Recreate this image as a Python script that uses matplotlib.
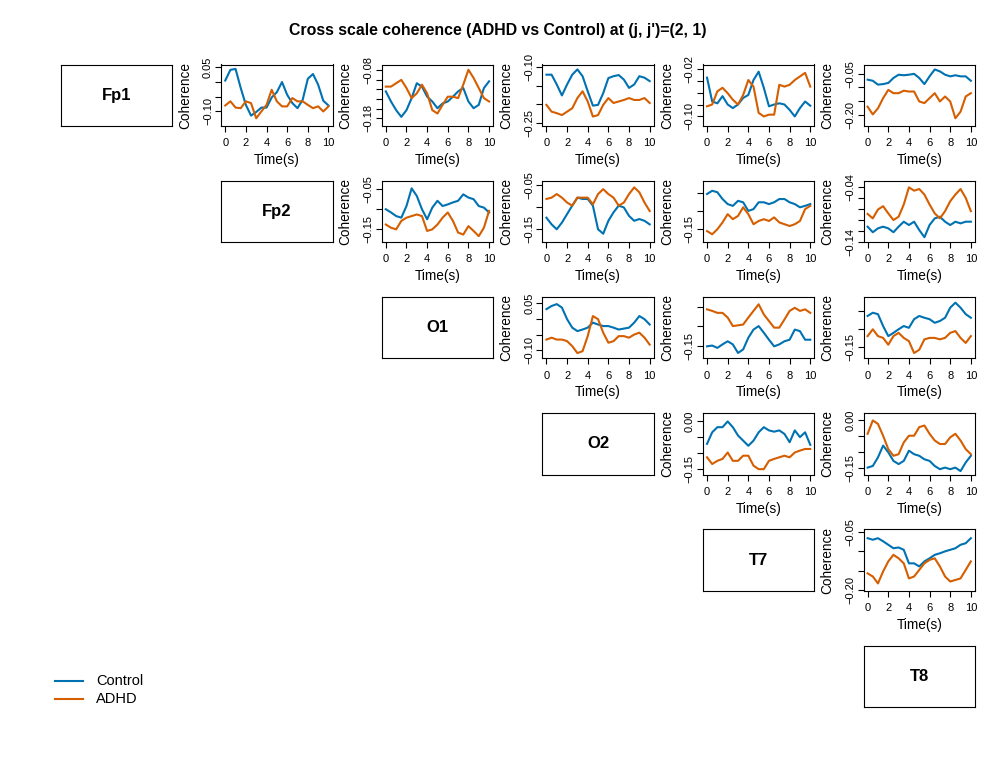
import numpy as np
import matplotlib
matplotlib.use("Agg")
import matplotlib.pyplot as plt
from matplotlib.lines import Line2D

plt.rcParams['font.family'] = ['Liberation Sans', 'DejaVu Sans']

# channels on the diagonal
channels = ["Fp1", "Fp2", "O1", "O2", "T7", "T8"]
time_s = np.arange(0, 10.01, 0.5)

# coherence values, one pair of series per panel
ctrl_fp1_fp2 = [0.004, 0.040, 0.043, -0.021, -0.078, -0.114, -0.102, -0.087, -0.087, -0.053, -0.035,
                -0.001, -0.044, -0.072, -0.089, -0.061, 0.010, 0.026, -0.010, -0.064, -0.080]
adhd_fp1_fp2 = [-0.080, -0.066, -0.087, -0.089, -0.066, -0.072, -0.123, -0.100, -0.078, -0.027, -0.066,
                -0.083, -0.083, -0.055, -0.066, -0.066, -0.078, -0.089, -0.083, -0.100, -0.083]

ctrl_fp1_o1 = [-0.124, -0.145, -0.163, -0.177, -0.163, -0.138, -0.107, -0.114, -0.135, -0.145, -0.159,
               -0.149, -0.145, -0.135, -0.124, -0.117, -0.145, -0.159, -0.152, -0.117, -0.103]
adhd_fp1_o1 = [-0.114, -0.114, -0.107, -0.100, -0.117, -0.138, -0.128, -0.110, -0.128, -0.163, -0.170,
               -0.152, -0.135, -0.135, -0.138, -0.110, -0.079, -0.096, -0.117, -0.138, -0.145]

ctrl_fp1_o2 = [-0.121, -0.121, -0.147, -0.176, -0.147, -0.121, -0.107, -0.125, -0.165, -0.203, -0.201,
               -0.170, -0.130, -0.125, -0.122, -0.134, -0.156, -0.147, -0.125, -0.129, -0.138]
adhd_fp1_o2 = [-0.201, -0.219, -0.223, -0.228, -0.219, -0.210, -0.183, -0.165, -0.192, -0.232, -0.228,
               -0.201, -0.183, -0.196, -0.192, -0.188, -0.183, -0.188, -0.188, -0.183, -0.196]

ctrl_fp1_t7 = [-0.035, -0.075, -0.078, -0.066, -0.080, -0.086, -0.080, -0.069, -0.064, -0.039, -0.025,
               -0.052, -0.083, -0.080, -0.078, -0.080, -0.089, -0.100, -0.086, -0.075, -0.082]
adhd_fp1_t7 = [-0.083, -0.080, -0.058, -0.052, -0.061, -0.072, -0.080, -0.064, -0.039, -0.050, -0.094,
               -0.100, -0.097, -0.097, -0.047, -0.050, -0.047, -0.039, -0.033, -0.027, -0.050]

ctrl_fp1_t8 = [-0.072, -0.076, -0.090, -0.088, -0.084, -0.066, -0.054, -0.056, -0.054, -0.051, -0.066,
               -0.088, -0.060, -0.035, -0.042, -0.054, -0.060, -0.056, -0.060, -0.060, -0.076]
adhd_fp1_t8 = [-0.170, -0.198, -0.176, -0.139, -0.109, -0.121, -0.121, -0.112, -0.115, -0.115, -0.151,
               -0.157, -0.139, -0.121, -0.151, -0.133, -0.151, -0.212, -0.188, -0.133, -0.121]

ctrl_fp2_o1 = [-0.100, -0.108, -0.117, -0.121, -0.092, -0.048, -0.067, -0.100, -0.125, -0.096, -0.079,
               -0.092, -0.088, -0.083, -0.079, -0.063, -0.071, -0.075, -0.092, -0.096, -0.108]
adhd_fp2_o1 = [-0.138, -0.146, -0.150, -0.129, -0.121, -0.117, -0.113, -0.117, -0.154, -0.150, -0.138,
               -0.121, -0.108, -0.129, -0.158, -0.163, -0.142, -0.154, -0.167, -0.146, -0.104]

ctrl_fp2_o2 = [-0.124, -0.139, -0.150, -0.135, -0.116, -0.097, -0.079, -0.082, -0.082, -0.097, -0.150,
               -0.160, -0.131, -0.112, -0.097, -0.101, -0.120, -0.131, -0.127, -0.131, -0.139]
adhd_fp2_o2 = [-0.082, -0.079, -0.071, -0.079, -0.090, -0.097, -0.079, -0.079, -0.079, -0.094, -0.071,
               -0.060, -0.071, -0.079, -0.097, -0.090, -0.071, -0.056, -0.067, -0.090, -0.109]

ctrl_fp2_t7 = [-0.052, -0.043, -0.047, -0.066, -0.080, -0.085, -0.071, -0.075, -0.099, -0.094, -0.075,
               -0.075, -0.080, -0.075, -0.066, -0.066, -0.075, -0.080, -0.089, -0.085, -0.080]
adhd_fp2_t7 = [-0.155, -0.164, -0.150, -0.131, -0.108, -0.122, -0.113, -0.089, -0.108, -0.136, -0.127,
               -0.122, -0.127, -0.117, -0.131, -0.136, -0.141, -0.136, -0.127, -0.094, -0.085]

ctrl_fp2_t8 = [-0.112, -0.122, -0.115, -0.112, -0.115, -0.122, -0.112, -0.103, -0.109, -0.103, -0.118,
               -0.131, -0.109, -0.097, -0.094, -0.103, -0.109, -0.103, -0.106, -0.103, -0.103]
adhd_fp2_t8 = [-0.089, -0.097, -0.081, -0.075, -0.088, -0.100, -0.094, -0.072, -0.041, -0.047, -0.044,
               -0.054, -0.072, -0.088, -0.097, -0.084, -0.066, -0.054, -0.044, -0.060, -0.084]

ctrl_o1_o2 = [0.031, 0.041, 0.047, 0.036, -0.001, -0.028, -0.039, -0.034, -0.028, -0.012, -0.018,
              -0.023, -0.023, -0.028, -0.034, -0.031, -0.028, -0.012, 0.009, -0.001, -0.018]
adhd_o1_o2 = [-0.066, -0.060, -0.066, -0.066, -0.071, -0.087, -0.109, -0.103, -0.055, 0.009, -0.001,
              -0.044, -0.076, -0.071, -0.055, -0.055, -0.060, -0.050, -0.044, -0.060, -0.082]

ctrl_o1_t7 = [-0.152, -0.150, -0.156, -0.147, -0.139, -0.147, -0.169, -0.160, -0.130, -0.109, -0.100,
              -0.117, -0.135, -0.152, -0.147, -0.139, -0.135, -0.109, -0.113, -0.135, -0.135]
adhd_o1_t7 = [-0.057, -0.061, -0.066, -0.066, -0.078, -0.100, -0.098, -0.096, -0.078, -0.061, -0.044,
              -0.070, -0.087, -0.104, -0.104, -0.083, -0.061, -0.053, -0.061, -0.057, -0.066]

ctrl_o1_t8 = [-0.064, -0.055, -0.059, -0.092, -0.120, -0.111, -0.101, -0.092, -0.097, -0.073, -0.064,
              -0.069, -0.073, -0.083, -0.078, -0.069, -0.041, -0.027, -0.041, -0.059, -0.069]
adhd_o1_t8 = [-0.120, -0.101, -0.120, -0.125, -0.144, -0.120, -0.111, -0.125, -0.134, -0.167, -0.158,
              -0.129, -0.125, -0.125, -0.129, -0.125, -0.111, -0.106, -0.125, -0.139, -0.120]

ctrl_o2_t7 = [-0.071, -0.035, -0.019, -0.019, -0.001, -0.019, -0.045, -0.061, -0.077, -0.061, -0.035,
              -0.019, -0.029, -0.033, -0.029, -0.040, -0.066, -0.029, -0.050, -0.035, -0.074]
adhd_o2_t7 = [-0.113, -0.134, -0.124, -0.118, -0.098, -0.124, -0.124, -0.108, -0.108, -0.139, -0.150,
              -0.150, -0.124, -0.118, -0.113, -0.108, -0.113, -0.098, -0.092, -0.087, -0.087]

ctrl_o2_t8 = [-0.148, -0.143, -0.116, -0.079, -0.100, -0.127, -0.137, -0.127, -0.095, -0.106, -0.111,
              -0.122, -0.127, -0.143, -0.153, -0.148, -0.153, -0.148, -0.159, -0.132, -0.111]
adhd_o2_t8 = [-0.042, 0.000, -0.011, -0.048, -0.090, -0.111, -0.106, -0.069, -0.048, -0.048, -0.021,
              -0.016, -0.042, -0.063, -0.074, -0.074, -0.053, -0.042, -0.063, -0.090, -0.106]

ctrl_t7_t8 = [-0.066, -0.070, -0.066, -0.074, -0.083, -0.092, -0.090, -0.096, -0.131, -0.131, -0.139,
              -0.126, -0.118, -0.109, -0.105, -0.100, -0.096, -0.092, -0.083, -0.079, -0.066]
adhd_t7_t8 = [-0.157, -0.165, -0.183, -0.152, -0.126, -0.109, -0.118, -0.131, -0.170, -0.165, -0.148,
              -0.131, -0.122, -0.118, -0.139, -0.165, -0.178, -0.174, -0.170, -0.148, -0.126]

series = {
    (0, 1): (ctrl_fp1_fp2, adhd_fp1_fp2), (0, 2): (ctrl_fp1_o1, adhd_fp1_o1),
    (0, 3): (ctrl_fp1_o2, adhd_fp1_o2), (0, 4): (ctrl_fp1_t7, adhd_fp1_t7),
    (0, 5): (ctrl_fp1_t8, adhd_fp1_t8), (1, 2): (ctrl_fp2_o1, adhd_fp2_o1),
    (1, 3): (ctrl_fp2_o2, adhd_fp2_o2), (1, 4): (ctrl_fp2_t7, adhd_fp2_t7),
    (1, 5): (ctrl_fp2_t8, adhd_fp2_t8), (2, 3): (ctrl_o1_o2, adhd_o1_o2),
    (2, 4): (ctrl_o1_t7, adhd_o1_t7), (2, 5): (ctrl_o1_t8, adhd_o1_t8),
    (3, 4): (ctrl_o2_t7, adhd_o2_t7), (3, 5): (ctrl_o2_t8, adhd_o2_t8),
    (4, 5): (ctrl_t7_t8, adhd_t7_t8),
}

# y axis per panel: limits, tick values, which ticks get a label
yaxis = {
    (0, 1): ((-0.149, 0.058), [0.05, 0.00, -0.05, -0.10], [0.05, -0.10]),
    (0, 2): ((-0.196, -0.068), [-0.08, -0.10, -0.12, -0.14, -0.16, -0.18], [-0.08, -0.18]),
    (0, 3): ((-0.257, -0.094), [-0.10, -0.15, -0.20, -0.25], [-0.10, -0.25]),
    (0, 4): ((-0.116, -0.013), [-0.02, -0.04, -0.06, -0.08, -0.10], [-0.02, -0.10]),
    (0, 5): ((-0.240, -0.017), [-0.05, -0.10, -0.15, -0.20], [-0.05, -0.20]),
    (1, 2): ((-0.182, -0.029), [-0.05, -0.10, -0.15], [-0.05, -0.15]),
    (1, 3): ((-0.179, -0.041), [-0.05, -0.10, -0.15], [-0.05, -0.15]),
    (1, 4): ((-0.186, -0.015), [-0.05, -0.10, -0.15], [-0.15]),
    (1, 5): ((-0.140, -0.029), [-0.04, -0.06, -0.08, -0.10, -0.12, -0.14], [-0.04, -0.14]),
    (2, 3): ((-0.126, 0.070), [0.05, 0.00, -0.05, -0.10], [0.05, -0.10]),
    (2, 4): ((-0.183, -0.025), [-0.05, -0.10, -0.15], [-0.15]),
    (2, 5): ((-0.182, -0.011), [-0.05, -0.10, -0.15], [-0.15]),
    (3, 4): ((-0.167, 0.025), [0.00, -0.05, -0.10, -0.15], [0.00, -0.15]),
    (3, 5): ((-0.170, 0.023), [0.00, -0.05, -0.10, -0.15], [0.00, -0.15]),
    (4, 5): ((-0.202, -0.043), [-0.05, -0.10, -0.15, -0.20], [-0.05, -0.20]),
}

BLUE = "#0072B2"
ORANGE = "#D55E00"
W, H = 996, 767

fig = plt.figure(figsize=(W / 100, H / 100), dpi=100)


def px_axes(left, top, w=111.5, h=61.5):
    return fig.add_axes([left / W, 1 - (top + h) / H, w / W, h / H])


def fmt(v):
    return f"{v:.2f}".replace("-", "\u2212")


for i in range(6):
    for j in range(i, 6):
        ax = px_axes(60.5 + 160.6 * j, 64.5 + 116.2 * i)
        for s in ax.spines.values():
            s.set_linewidth(0.8)
        if i == j:
            ax.set_xticks([])
            ax.set_yticks([])
            ax.text(0.5, 0.5, channels[i], transform=ax.transAxes, ha="center", va="center",
                    fontsize=12, fontweight="bold")
            continue

        ctrl, adhd = series[(i, j)]
        ax.plot(time_s, ctrl, color=BLUE, lw=1.5)
        ax.plot(time_s, adhd, color=ORANGE, lw=1.5)
        ax.set_xlim(-0.4, 10.4)
        (lo, hi), ticks, shown = yaxis[(i, j)]
        ax.set_ylim(lo, hi)

        ax.set_xticks(range(0, 11, 2))
        ax.set_yticks(ticks)
        ax.set_yticklabels([fmt(t) if t in shown else "" for t in ticks],
                           rotation=90, va="center")
        ax.tick_params(labelsize=8, length=4.3, width=0.8)
        ax.tick_params(axis="x", pad=4.5)
        ax.tick_params(axis="y", pad=1.5)
        ax.set_xlabel("Time(s)", fontsize=9.8)
        ax.set_ylabel("Coherence", fontsize=9.8)
        ax.xaxis.set_label_coords(0.5, -0.44)
        ax.yaxis.set_label_coords(-0.26, 0.5)

fig.text(0.5, 1 - 30 / H, "Cross scale coherence (ADHD vs Control) at (j, j')=(2, 1)",
         ha="center", va="center", fontsize=11.4, fontweight="bold")

# legend in the lower-left corner
for k, (lab, col) in enumerate([("Control", BLUE), ("ADHD", ORANGE)]):
    y = 1 - (681 + 18 * k) / H
    fig.add_artist(Line2D([55 / W, 83 / W], [y, y], color=col, lw=1.5, transform=fig.transFigure))
    fig.text(96 / W, y, lab, ha="left", va="center", fontsize=10.5)

fig.savefig("out.png", dpi=100)
